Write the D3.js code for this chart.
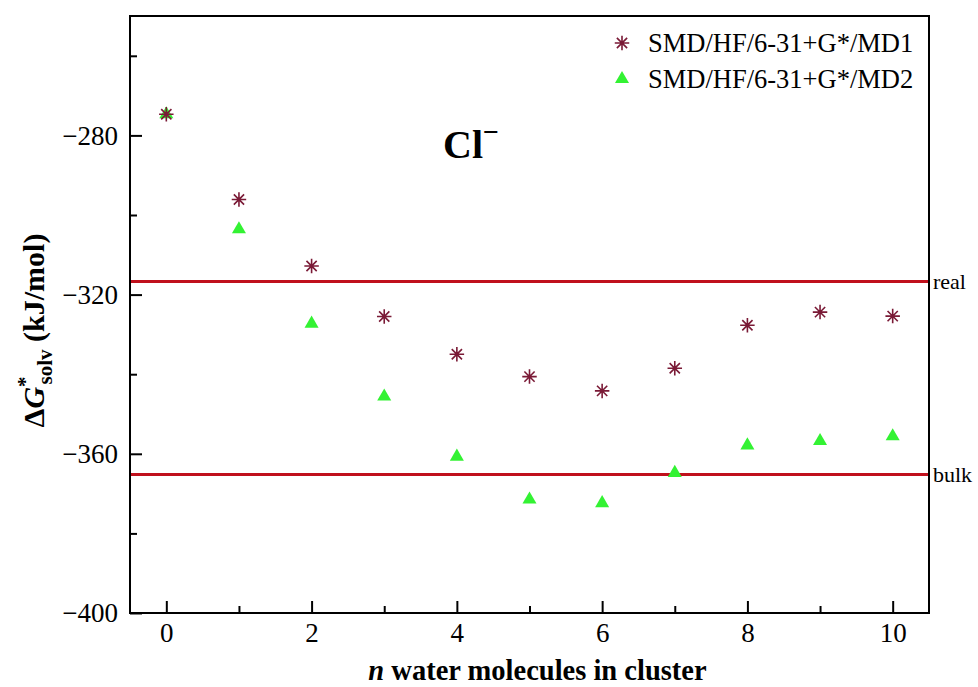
<!DOCTYPE html>
<html>
<head>
<meta charset="utf-8">
<script src="https://cdn.jsdelivr.net/npm/d3@7"></script>
<style>
  html, body { margin: 0; padding: 0; background: #fff; }
  svg { display: block; }
  text { font-family: "Liberation Serif", "Times New Roman", serif; fill: #000; }
</style>
</head>
<body>
<div id="chart"></div>
<script>
  const nValues = [0, 1, 2, 3, 4, 5, 6, 7, 8, 9, 10];
  const md1 = [-274.7, -296.1, -312.8, -325.5, -335.0, -340.6, -344.2, -338.5, -327.7, -324.4, -325.4];
  const md2 = [-274.7, -303.6, -327.3, -345.6, -360.7, -371.5, -372.4, -364.8, -357.9, -356.8, -355.6];
  const refLines = [{ label: "real", value: -316.7 }, { label: "bulk", value: -365.2 }];
  const seriesNames = ["SMD/HF/6-31+G*/MD1", "SMD/HF/6-31+G*/MD2"];
  const xTicksMajor = [0, 2, 4, 6, 8, 10];
  const xTicksMinor = [1, 3, 5, 7, 9];
  const yTicksMajor = [-400, -360, -320, -280];
  const yTicksMinor = [-380, -340, -300, -260];

  const W = 978, H = 687;
  const margin = { top: 16, right: 49, bottom: 74, left: 130 };
  const innerW = W - margin.left - margin.right;
  const innerH = H - margin.top - margin.bottom;

  const svg = d3.select("#chart").append("svg")
    .attr("width", W)
    .attr("height", H);

  const g = svg.append("g").attr("transform", `translate(${margin.left},${margin.top})`);

  const x = d3.scaleLinear().domain([-0.5, 10.5]).range([0, innerW]);
  const y = d3.scaleLinear().domain([-400, -250]).range([innerH, 0]);

  // 8-spoke asterisk
  const asterisk8 = {
    draw(ctx, size) {
      const r = Math.sqrt(size) / 2;
      for (let i = 0; i < 4; i++) {
        const a = i * Math.PI / 4;
        const dx = Math.cos(a) * r, dy = Math.sin(a) * r;
        ctx.moveTo(-dx, -dy);
        ctx.lineTo(dx, dy);
      }
    }
  };

  const fmtMinus = d => d < 0 ? "\u2212" + Math.abs(d) : String(d);

  // reference lines
  g.append("g").selectAll("line")
    .data(refLines)
    .join("line")
    .attr("x1", 0).attr("x2", innerW)
    .attr("y1", d => y(d.value)).attr("y2", d => y(d.value))
    .attr("stroke", "#c0101c")
    .attr("stroke-width", 3);

  g.append("g").selectAll("text")
    .data(refLines)
    .join("text")
    .attr("x", innerW + 4)
    .attr("y", d => y(d.value))
    .attr("dy", "0.33em")
    .attr("font-size", 22)
    .text(d => d.label);

  // axes (ticks inward)
  const axisX = g.append("g").attr("transform", `translate(0,${innerH})`);
  axisX.call(d3.axisBottom(x).tickValues(xTicksMajor).tickSize(-12).tickPadding(10).tickFormat(d3.format("d")));
  axisX.append("g").call(d3.axisBottom(x).tickValues(xTicksMinor).tickSize(-7).tickFormat(""))
    .select(".domain").remove();

  const axisY = g.append("g");
  axisY.call(d3.axisLeft(y).tickValues(yTicksMajor).tickSize(-12).tickPadding(12).tickFormat(fmtMinus));
  axisY.append("g").call(d3.axisLeft(y).tickValues(yTicksMinor).tickSize(-7).tickFormat(""))
    .select(".domain").remove();

  g.selectAll(".tick text")
    .attr("font-family", "'Liberation Serif', 'Times New Roman', serif")
    .attr("font-size", 27)
    .attr("fill", "#000");
  g.selectAll(".domain, .tick line").attr("stroke", "#000").attr("stroke-width", 2);
  g.selectAll(".domain").attr("d", null);

  // frame
  g.append("rect")
    .attr("width", innerW).attr("height", innerH)
    .attr("fill", "none")
    .attr("stroke", "#000")
    .attr("stroke-width", 2);

  // MD2 triangles
  g.append("g").selectAll("path")
    .data(nValues.map((n, i) => ({ n, v: md2[i] })))
    .join("path")
    .attr("transform", d => `translate(${x(d.n)},${y(d.v)})`)
    .attr("d", d3.symbol(d3.symbolTriangle, 85))
    .attr("fill", "#33f233");

  // MD1 asterisks
  g.append("g").selectAll("path")
    .data(nValues.map((n, i) => ({ n, v: md1[i] })))
    .join("path")
    .attr("transform", d => `translate(${x(d.n)},${y(d.v)})`)
    .attr("d", d3.symbol(asterisk8, 210))
    .attr("fill", "none")
    .attr("stroke", "#7a1a36")
    .attr("stroke-width", 1.6);

  // legend
  const legend = g.append("g").attr("transform", `translate(${innerW - 300},0)`);
  const legRows = legend.selectAll("g")
    .data(seriesNames)
    .join("g")
    .attr("transform", (d, i) => `translate(0,${27 + i * 36})`);
  legRows.append("path")
    .attr("transform", "translate(-7,0)")
    .attr("d", (d, i) => i === 0 ? d3.symbol(asterisk8, 210)() : d3.symbol(d3.symbolTriangle, 85)())
    .attr("fill", (d, i) => i === 0 ? "none" : "#33f233")
    .attr("stroke", (d, i) => i === 0 ? "#7a1a36" : "none")
    .attr("stroke-width", 1.6);
  legRows.append("text")
    .attr("x", 19)
    .attr("dy", "0.35em")
    .attr("font-size", 26.5)
    .text(d => d);

  // Cl- label
  const cl = svg.append("text")
    .attr("x", 443)
    .attr("y", 158)
    .attr("font-size", 40)
    .attr("font-weight", "bold");
  cl.append("tspan").text("Cl");
  cl.append("tspan").attr("dy", -17).attr("font-size", 28).text("\u2212");

  // axis titles
  const xt = svg.append("text")
    .attr("x", margin.left + innerW / 2 + 8)
    .attr("y", H - 7)
    .attr("text-anchor", "middle")
    .attr("font-size", 28.5)
    .attr("font-weight", "bold");
  xt.append("tspan").attr("font-style", "italic").text("n");
  xt.append("tspan").text(" water molecules in cluster");

  const yt = svg.append("text")
    .attr("transform", `translate(44,${margin.top + innerH / 2 + 16}) rotate(-90)`)
    .attr("text-anchor", "middle")
    .attr("font-size", 30)
    .attr("font-weight", "bold");
  yt.append("tspan").text("\u0394");
  yt.append("tspan").attr("font-style", "italic").text("G");
  yt.append("tspan").attr("dy", -12).attr("font-size", 21).text("*");
  yt.append("tspan").attr("dy", 20).attr("dx", -8).attr("font-size", 21).text("solv");
  yt.append("tspan").attr("dy", -8).text(" (kJ/mol)");
</script>
</body>
</html>
